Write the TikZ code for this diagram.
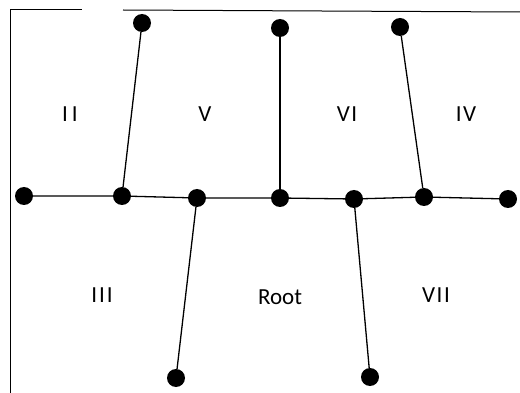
\documentclass[tikz,border=0pt]{standalone}
\usepackage{fontspec}
\setmainfont{Carlito}
\begin{document}
\begin{tikzpicture}[x=1pt,y=-1pt,
  dot/.style={circle,fill=black,inner sep=0pt,minimum size=18pt},
  edge/.style={line width=1.3pt},
  frame/.style={line width=1pt},
  lab/.style={font=\fontsize{23}{27}\selectfont,inner sep=0pt}]
\useasboundingbox (0,0) rectangle (520,393);
% frame
\coordinate (tl) at (10,10);
\coordinate (bl) at (10,393);
\coordinate (t1) at (82,10);
\coordinate (t2) at (123,10);
\coordinate (tr) at (520,12);
\draw[frame] (bl) -- (tl) -- (t1);
\draw[frame] (t2) -- (tr);
% nodes
\node[dot] (a) at (24,196) {};
\node[dot] (b) at (122,196) {};
\node[dot] (c) at (197,198) {};
\node[dot] (d) at (280,198) {};
\node[dot] (e) at (354,199) {};
\node[dot] (f) at (424,197) {};
\node[dot] (g) at (508,199) {};
\node[dot] (bt) at (142,23) {};
\node[dot] (dt) at (280,28) {};
\node[dot] (ft) at (400,27) {};
\node[dot] (cb) at (176,378) {};
\node[dot] (eb) at (370,377) {};
% edges
\draw[edge] (a) -- (b) -- (c) -- (d) -- (e) -- (f) -- (g);
\draw[edge] (b) -- (bt);
\draw[edge] (d) -- (dt);
\draw[edge] (f) -- (ft);
\draw[edge] (c) -- (cb);
\draw[edge] (e) -- (eb);
% labels
\node[lab] (l2) at (70,114) {I\kern4pt I};
\node[lab] (l5) at (205,114) {V};
\node[lab] (l6) at (347,114) {V\kern1.5pt I};
\node[lab] (l4) at (466,114) {I\kern1.5pt V};
\node[lab] (l3) at (102,295) {I\kern2pt I\kern2pt I};
\node[lab] (lr) at (280,297) {Root};
\node[lab] (l7) at (436,295) {V\kern1.5pt I\kern1.5pt I};
\end{tikzpicture}
\end{document}
